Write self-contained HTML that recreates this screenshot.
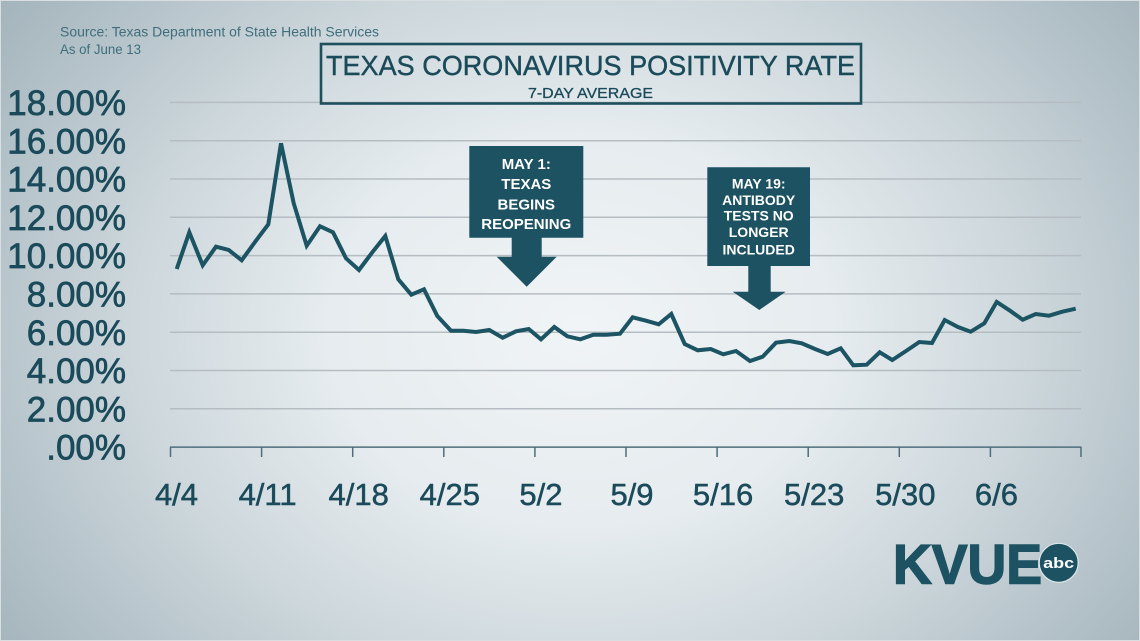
<!DOCTYPE html>
<html>
<head>
<meta charset="utf-8">
<style>
  html,body{margin:0;padding:0;}
  body{width:1140px;height:641px;overflow:hidden;}
  svg{display:block;}
</style>
</head>
<body>
<svg width="1140" height="641" viewBox="0 0 1140 641" xmlns="http://www.w3.org/2000/svg">
  <defs>
    <radialGradient id="bg" cx="580" cy="330" r="720" gradientUnits="userSpaceOnUse" gradientTransform="translate(580 330) scale(1 0.78) translate(-580 -330)">
      <stop offset="0" stop-color="#f0f4f6"/>
      <stop offset="0.35" stop-color="#e6ecef"/>
      <stop offset="0.62" stop-color="#cdd7dc"/>
      <stop offset="0.85" stop-color="#b3c1c8"/>
      <stop offset="1" stop-color="#a4b4bc"/>
    </radialGradient>
  </defs>
  <rect x="0" y="0" width="1140" height="641" fill="url(#bg)"/>
  <rect x="0.5" y="0.5" width="1139" height="640" fill="none" stroke="#d9dee1" stroke-width="1"/>

  <!-- source text -->
  <g font-family="Liberation Sans, sans-serif" font-size="13.5" fill="#3f6e7b">
    <text x="60" y="36.5" textLength="319" lengthAdjust="spacingAndGlyphs">Source: Texas Department of State Health Services</text>
    <text x="60" y="54" textLength="81" lengthAdjust="spacingAndGlyphs">As of June 13</text>
  </g>

  <!-- gridlines -->
  <g stroke="#b5bdc3" stroke-width="1.5">
    <line x1="170" y1="102.4" x2="1081" y2="102.4"/>
    <line x1="170" y1="140.7" x2="1081" y2="140.7"/>
    <line x1="170" y1="179" x2="1081" y2="179"/>
    <line x1="170" y1="217.3" x2="1081" y2="217.3"/>
    <line x1="170" y1="255.6" x2="1081" y2="255.6"/>
    <line x1="170" y1="293.9" x2="1081" y2="293.9"/>
    <line x1="170" y1="332.2" x2="1081" y2="332.2"/>
    <line x1="170" y1="370.5" x2="1081" y2="370.5"/>
    <line x1="170" y1="408.8" x2="1081" y2="408.8"/>
  </g>

  <!-- x axis -->
  <g stroke="#4d6e7a" stroke-width="1.5">
    <line x1="170" y1="447.1" x2="1081.5" y2="447.1"/>
    <line x1="170.5" y1="447" x2="170.5" y2="457"/>
    <line x1="261.6" y1="447" x2="261.6" y2="457"/>
    <line x1="352.7" y1="447" x2="352.7" y2="457"/>
    <line x1="443.8" y1="447" x2="443.8" y2="457"/>
    <line x1="534.9" y1="447" x2="534.9" y2="457"/>
    <line x1="626" y1="447" x2="626" y2="457"/>
    <line x1="717.1" y1="447" x2="717.1" y2="457"/>
    <line x1="808.2" y1="447" x2="808.2" y2="457"/>
    <line x1="899.3" y1="447" x2="899.3" y2="457"/>
    <line x1="990.4" y1="447" x2="990.4" y2="457"/>
    <line x1="1081" y1="447" x2="1081" y2="457"/>
  </g>

  <!-- y labels -->
  <g font-family="Liberation Sans, sans-serif" font-size="35" fill="#1b4b5a" stroke="#1b4b5a" stroke-width="0.7" text-anchor="end">
    <text x="126" y="115">18.00%</text>
    <text x="126" y="153.3">16.00%</text>
    <text x="126" y="191.6">14.00%</text>
    <text x="126" y="229.9">12.00%</text>
    <text x="126" y="268.2">10.00%</text>
    <text x="126" y="306.5">8.00%</text>
    <text x="126" y="344.8">6.00%</text>
    <text x="126" y="383.1">4.00%</text>
    <text x="126" y="421.4">2.00%</text>
    <text x="126" y="459.7">.00%</text>
  </g>

  <!-- x labels -->
  <g font-family="Liberation Sans, sans-serif" font-size="31" fill="#1b4b5a" stroke="#1b4b5a" stroke-width="0.5" text-anchor="middle">
    <text x="176.5" y="505">4/4</text>
    <text x="267.6" y="505">4/11</text>
    <text x="358.7" y="505">4/18</text>
    <text x="449.8" y="505">4/25</text>
    <text x="540.9" y="505">5/2</text>
    <text x="632" y="505">5/9</text>
    <text x="723.1" y="505">5/16</text>
    <text x="814.2" y="505">5/23</text>
    <text x="905.3" y="505">5/30</text>
    <text x="996.4" y="505">6/6</text>
  </g>

  <!-- title box -->
  <rect x="321" y="44" width="540" height="59.5" fill="none" stroke="#1d4f5d" stroke-width="2.6"/>
  <text x="590.5" y="75" font-family="Liberation Sans, sans-serif" font-size="27.5" fill="#1b4b5a" stroke="#1b4b5a" stroke-width="0.4" text-anchor="middle" textLength="529" lengthAdjust="spacingAndGlyphs">TEXAS CORONAVIRUS POSITIVITY RATE</text>
  <text x="590.5" y="98" font-family="Liberation Sans, sans-serif" font-size="15" fill="#1b4b5a" stroke="#1b4b5a" stroke-width="0.3" text-anchor="middle" textLength="125" lengthAdjust="spacingAndGlyphs">7-DAY AVERAGE</text>

  <!-- data line -->
  <polyline fill="none" stroke="#1c5464" stroke-width="4" stroke-linejoin="miter" stroke-miterlimit="4" points="
    176.7,269 189.3,232.3 202.7,265.3 216,246.7 228.7,250 241.7,260.3 255,242 268.3,224.3 281,143.3 293.7,203.3
    306.7,245.7 320,226.3 333,232.3 346,258.3 359,270 372.3,252.3 385.3,236 398.3,279.3 411.3,294.7 424,289.3
    437.3,316 451,330.7 463.3,330.7 476,332 489.3,330 502.7,337.7 516,331.3 528.7,329 541,339.3 554.3,327
    567.3,336.3 580.3,339.3 593.3,334.7 606.7,334.7 620,333.7 632.7,317.3 646,320.7 658.7,324.3 671.3,314 684.7,344
    697.7,350.3 710.7,349 723.3,354.3 736,351 750,361 762.7,356.7 776,342.7 789.3,341 801.7,343.3 815,349
    827.7,354 840.7,348.3 853.3,365.3 866.7,364.7 879.7,352.3 892.3,360 906,351 919.3,342 932,343 944.7,320
    958,327 970.7,331.7 984.3,323.3 996.7,302 1010,310.7 1022.7,319.7 1035.7,314 1049,315.7 1062.3,311.7 1075.7,308.7"/>

  <!-- annotation 1 -->
  <path d="M469.3,146 H583.3 V237.7 H541.7 V256.7 H556.7 L526.7,286.7 L496.7,256.7 H511.7 V237.7 H469.3 Z" fill="#1c5262"/>
  <g font-family="Liberation Sans, sans-serif" font-weight="bold" font-size="15" fill="#ffffff" text-anchor="middle">
    <text x="526.3" y="169">MAY 1:</text>
    <text x="526.3" y="189">TEXAS</text>
    <text x="526.3" y="209.5">BEGINS</text>
    <text x="526.3" y="229">REOPENING</text>
  </g>

  <!-- annotation 2 -->
  <path d="M707.3,167.3 H810 V266 H770.7 V291.7 H785.7 L759.3,310 L732.7,291.7 H748.3 V266 H707.3 Z" fill="#1c5262"/>
  <g font-family="Liberation Sans, sans-serif" font-weight="bold" font-size="14" fill="#ffffff" text-anchor="middle">
    <text x="758.7" y="188.3">MAY 19:</text>
    <text x="758.7" y="205">ANTIBODY</text>
    <text x="758.7" y="220.5">TESTS NO</text>
    <text x="758.7" y="237">LONGER</text>
    <text x="758.7" y="254.5">INCLUDED</text>
  </g>

  <!-- logo -->
  <text x="893" y="583.5" font-family="Liberation Sans, sans-serif" font-weight="bold" font-size="56" fill="#1c5262" stroke="#1c5262" stroke-width="1.5" textLength="149" lengthAdjust="spacingAndGlyphs">KVUE</text>
  <circle cx="1058.7" cy="562.8" r="19.5" fill="#1c5262" stroke="#dfe6e9" stroke-width="1.2"/>
  <text x="1058.7" y="568" font-family="Liberation Sans, sans-serif" font-weight="bold" font-size="15" fill="#ffffff" text-anchor="middle" textLength="31" lengthAdjust="spacingAndGlyphs">abc</text>
</svg>
</body>
</html>
